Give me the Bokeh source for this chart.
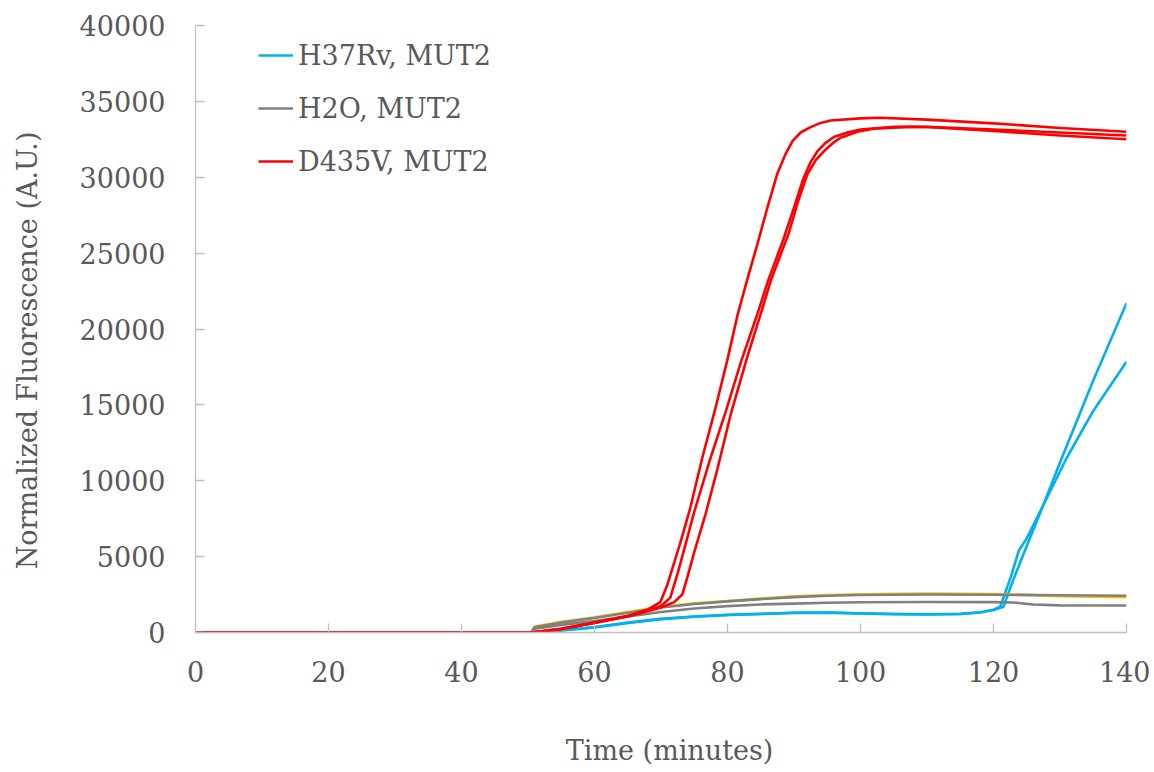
from bokeh.plotting import figure
from bokeh.models import FixedTicker, Legend, LegendItem, Range1d
from bokeh.embed import file_html
from bokeh.resources import INLINE

# ---- data ----
x_ticks = [0, 20, 40, 60, 80, 100, 120, 140]
y_ticks = [0, 5000, 10000, 15000, 20000, 25000, 30000, 35000, 40000]

t_base = [0, 50.5, 55, 60, 65, 70, 75, 80, 85, 90, 95, 100, 105, 110, 115, 118, 120]
h37rv_a_t = t_base + [121, 122.6, 123.8, 125, 127.5, 131, 135, 140]
h37rv_a = [0, 0, 150, 350, 650, 900, 1050, 1160, 1230, 1300, 1320, 1260, 1220, 1200, 1230, 1330, 1500,
           1700, 3650, 5400, 6200, 8400, 11500, 14600, 17850]
h37rv_b_t = t_base + [121.5, 123, 125, 127.5, 130, 135, 140]
h37rv_b = [0, 0, 140, 340, 630, 880, 1040, 1150, 1220, 1290, 1310, 1250, 1210, 1190, 1220, 1320, 1480,
           1700, 3500, 5700, 8400, 11200, 16600, 21700]

h2o_t = [0, 50.5, 51, 55, 60, 65, 70, 75, 80, 85, 90, 95, 100, 110, 120, 130, 140]
h2o_a = [0, 0, 350, 650, 950, 1300, 1650, 1880, 2050, 2200, 2330, 2420, 2470, 2500, 2490, 2450, 2420]
h2o_c = [0, 0, 400, 700, 1000, 1350, 1700, 1920, 2080, 2230, 2380, 2460, 2520, 2560, 2540, 2400, 2330]
h2o_b_t = [0, 50.5, 51, 55, 60, 65, 70, 75, 80, 85, 90, 95, 100, 110, 120, 123, 126, 130, 140]
h2o_b = [0, 0, 250, 500, 750, 1050, 1350, 1580, 1740, 1850, 1900, 1960, 1990, 2010, 2000, 1980, 1850, 1790, 1780]

d435v_a_t = [0, 50.5, 55, 60, 65, 68, 69.9, 71, 72.9, 74.4, 76.2, 78.2, 80, 81.5, 83, 84.5, 86, 87.5,
             88.7, 89.8, 91, 92.5, 94, 95.5, 100, 103, 110, 120, 130, 140]
d435v_a = [0, 0, 250, 650, 1100, 1500, 2000, 3200, 5900, 8200, 11500, 14800, 18000, 20900, 23300, 25600,
           28000, 30250, 31500, 32400, 32950, 33300, 33580, 33740, 33880, 33920, 33800, 33550, 33250, 33000]
d435v_b_t = [0, 50.5, 55, 60, 65, 68, 70, 71.4, 72.5, 73.5, 74.9, 77.3, 79.7, 82, 84.5, 86.2, 88.4, 90,
             91.4, 92.5, 93.5, 94.7, 96, 98, 100, 105, 110, 120, 130, 140]
d435v_b = [0, 0, 240, 640, 1080, 1450, 1750, 2300, 3900, 5500, 7800, 11300, 14500, 17800, 21000, 23300,
           25900, 28000, 29900, 31000, 31700, 32250, 32650, 32950, 33150, 33330, 33320, 33150, 32950, 32750]
d435v_c_t = [0, 50.5, 55, 60, 65, 68, 70, 72, 73.2, 74, 75, 76.7, 78.5, 80.5, 83, 85.2, 86.6, 89.2, 90.6,
             92, 93.3, 94.7, 96, 97, 99.5, 102, 107, 110, 120, 130, 140]
d435v_c = [0, 0, 230, 620, 1050, 1400, 1650, 2000, 2500, 3700, 5300, 7800, 10800, 14400, 18200, 21300,
           23300, 26300, 28400, 30200, 31150, 31800, 32300, 32600, 33000, 33200, 33320, 33310, 33050, 32750,
           32500]

labels = ["H37Rv, MUT2", "H2O, MUT2", "D435V, MUT2"]
x_title = "Time (minutes)"
y_title = "Normalized Fluorescence (A.U.)"

# ---- styling ----
FONT = "DejaVu Serif"
TXT = "#595959"
AX = "#bfbfbf"
BLUE, GRAY, RED, GOLD = "#00B0F0", "#808080", "#FF0000", "#FFC000"
LW = 2.6
NB = "\u00a0"  # non-breaking spaces nudge the titles off-centre like the reference

p = figure(width=1150, height=770, output_backend="svg", toolbar_location=None,
           x_range=Range1d(0, 140), y_range=Range1d(0, 40000),
           min_border_left=195, min_border_right=24, min_border_top=25, min_border_bottom=138)
p.outline_line_color = None
p.xgrid.visible = False
p.ygrid.visible = False

rb1 = p.line(h37rv_a_t, h37rv_a, line_color=BLUE, line_width=LW, line_join="round")
rb2 = p.line(h37rv_b_t, h37rv_b, line_color=BLUE, line_width=LW, line_join="round")
p.line(h2o_t, h2o_c, line_color=GOLD, line_width=LW, line_join="round")
rg1 = p.line(h2o_t, h2o_a, line_color=GRAY, line_width=LW, line_join="round")
rg2 = p.line(h2o_b_t, h2o_b, line_color=GRAY, line_width=LW, line_join="round")
rr1 = p.line(d435v_a_t, d435v_a, line_color=RED, line_width=LW, line_join="round")
rr2 = p.line(d435v_b_t, d435v_b, line_color=RED, line_width=LW, line_join="round")
rr3 = p.line(d435v_c_t, d435v_c, line_color=RED, line_width=LW, line_join="round")

for ax, ticks in ((p.xaxis[0], x_ticks), (p.yaxis[0], y_ticks)):
    ax.ticker = FixedTicker(ticks=ticks)
    ax.minor_tick_line_color = None
    ax.major_tick_in = 9
    ax.major_tick_out = 0
    ax.axis_line_color = AX
    ax.major_tick_line_color = AX
    ax.axis_line_width = 1.3
    ax.major_tick_line_width = 1.3
    ax.major_label_text_font = FONT
    ax.major_label_text_font_size = "27px"
    ax.major_label_text_color = TXT
    ax.axis_label_text_font = FONT
    ax.axis_label_text_font_size = "27px"
    ax.axis_label_text_color = TXT
    ax.axis_label_text_font_style = "normal"

p.xaxis.axis_label = NB * 2 + x_title
p.yaxis.axis_label = y_title + NB * 5
p.xaxis.major_label_standoff = 28
p.xaxis.axis_label_standoff = 50
p.yaxis.major_label_standoff = 30
p.yaxis.axis_label_standoff = 34

legend = Legend(items=[LegendItem(label=labels[0], renderers=[rb1]),
                       LegendItem(label=labels[1], renderers=[rg1]),
                       LegendItem(label=labels[2], renderers=[rr1])],
                location=(63, 455))
legend.label_text_font = FONT
legend.label_text_font_size = "27px"
legend.label_text_color = TXT
legend.glyph_width = 35
legend.glyph_height = 32
legend.label_height = 32
legend.label_standoff = 5
legend.spacing = 21
legend.padding = 0
legend.margin = 0
legend.border_line_color = None
legend.background_fill_alpha = 0
p.add_layout(legend, "center")

open("out.html", "w").write(file_html(p, INLINE))
